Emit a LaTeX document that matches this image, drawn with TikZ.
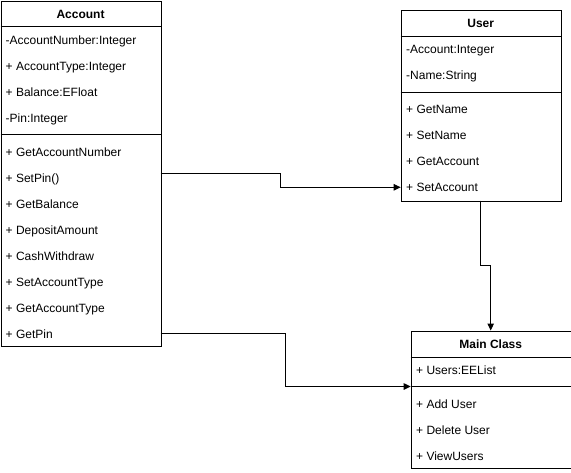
\documentclass[tikz,border=0pt]{standalone}
\usepackage{fontspec}
\setmainfont{Liberation Sans}
\usetikzlibrary{arrows.meta}
\begin{document}
\begin{tikzpicture}[x=1pt,y=-1pt,
  box/.style={draw,line width=1pt,inner sep=0pt,anchor=north west,fill=white},
  sepline/.style={line width=1pt},
  item/.style={anchor=west,inner sep=0pt,text height=8.6pt,text depth=0pt,font=\fontsize{12}{14}\selectfont},
  ttl/.style={anchor=center,inner sep=0pt,text height=8.6pt,text depth=0pt,font=\fontsize{12}{14}\selectfont\bfseries},
  conn/.style={line width=1pt,-{Stealth[length=7pt,width=6.5pt,inset=0pt]}}]
\useasboundingbox (0,0) rectangle (571,472);

% ---------- Account ----------
\node[box,minimum width=160pt,minimum height=345pt] (acc) at (0.5,0.5) {};
\draw[sepline] (0.5,26.5) -- (160.5,26.5);
\draw[sepline] (0.5,134) -- (160.5,134);
\node[ttl] (accT) at (80.5,14) {Account};
\node[item] (a1) at (5.5,40) {-AccountNumber:Integer};
\node[item] (a2) at (5.5,66) {+ AccountType:Integer};
\node[item] (a3) at (5.5,92) {+ Balance:EFloat};
\node[item] (a4) at (5.5,118) {-Pin:Integer};
\node[item] (m1) at (5.5,152) {+ GetAccountNumber};
\node[item] (m2) at (5.5,178) {+ SetPin()};
\node[item] (m3) at (5.5,204) {+ GetBalance};
\node[item] (m4) at (5.5,230) {+ DepositAmount};
\node[item] (m5) at (5.5,256) {+ CashWithdraw};
\node[item] (m6) at (5.5,282) {+ SetAccountType};
\node[item] (m7) at (5.5,308) {+ GetAccountType};
\node[item] (m8) at (5.5,334) {+ GetPin};

% ---------- User ----------
\node[box,minimum width=160pt,minimum height=190.4pt] (usr) at (400.7,10.3) {};
\draw[sepline] (400.7,36) -- (560.7,36);
\draw[sepline] (400.7,92) -- (560.7,92);
\node[ttl] (usrT) at (480.7,23.5) {User};
\node[item] (u1) at (406,49.5) {-Account:Integer};
\node[item] (u2) at (406,75.5) {-Name:String};
\node[item] (u3) at (406,109.5) {+ GetName};
\node[item] (u4) at (406,135.5) {+ SetName};
\node[item] (u5) at (406,161.5) {+ GetAccount};
\node[item] (u6) at (406,187.5) {+ SetAccount};

% ---------- Main Class ----------
\node[box,minimum width=160pt,minimum height=137.5pt] (mc) at (410.7,330.5) {};
\draw[sepline] (410.7,357.5) -- (570.7,357.5);
\draw[sepline] (410.7,386.5) -- (570.7,386.5);
\node[ttl] (mcT) at (490.7,344) {Main Class};
\node[item] (c1) at (416,370) {+ Users:EEList};
\node[item] (c2) at (416,404) {+ Add User};
\node[item] (c3) at (416,430) {+ Delete User};
\node[item] (c4) at (416,456) {+ ViewUsers};

% ---------- connectors ----------
\coordinate (s1) at (160.5,173.3);
\coordinate (e1) at (400.7,187.3);
\draw[conn] (s1) -- (280.5,173.3) -- (280.5,187.3) -- (e1);

\coordinate (s2) at (480.7,200.7);
\coordinate (e2) at (490.7,330.5);
\draw[conn] (s2) -- (480.7,265.5) -- (490.7,265.5) -- (e2);

\coordinate (s3) at (160.5,333.3);
\coordinate (e3) at (410.7,386.5);
\draw[conn] (s3) -- (285.5,333.3) -- (285.5,386.5) -- (e3);
\end{tikzpicture}
\end{document}
